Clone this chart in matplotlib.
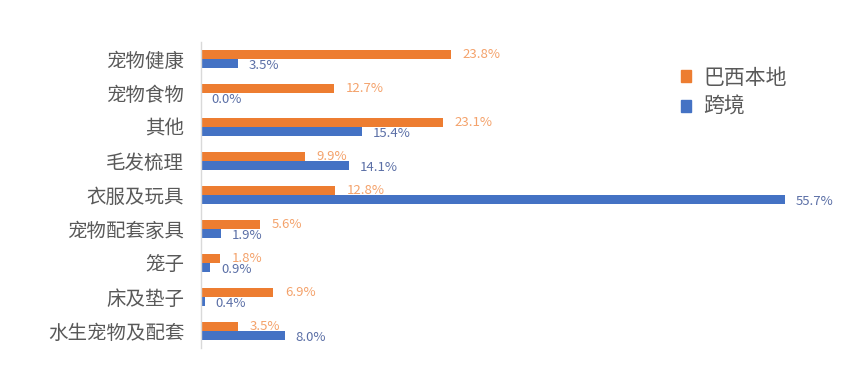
import matplotlib
matplotlib.use("Agg")
import matplotlib.pyplot as plt
from matplotlib.patches import Patch
import numpy as np

plt.rcParams['font.family'] = ['Noto Sans CJK SC', 'DejaVu Sans']

categories = ["宠物健康", "宠物食物", "其他", "毛发梳理", "衣服及玩具",
              "宠物配套家具", "笼子", "床及垫子", "水生宠物及配套"]
local_vals = [23.8, 12.7, 23.1, 9.9, 12.8, 5.6, 1.8, 6.9, 3.5]
cross_vals = [3.5, 0.0, 15.4, 14.1, 55.7, 1.9, 0.9, 0.4, 8.0]
series_names = ["巴西本地", "跨境"]

c_local = "#ED7D31"
c_cross = "#4472C4"
c_local_lbl = "#F4A26B"
c_cross_lbl = "#5B6FA6"

fig = plt.figure(figsize=(8.64, 3.78), dpi=100)
ax = fig.add_axes([201/864, 30/378, 629/864, 306/378])

n = len(categories)
y = np.arange(n)[::-1].astype(float)
h = 0.27
off = 0.14
ax.barh(y + off, local_vals, height=h, color=c_local)
ax.barh(y - off, cross_vals, height=h, color=c_cross)

for yi, v in zip(y, local_vals):
    ax.text(v + 1.1, yi + off - 0.02, f"{v:.1f}%", va="center", ha="left",
            color=c_local_lbl, fontsize=9.5)
for yi, v in zip(y, cross_vals):
    ax.text(v + 1.0, yi - off - 0.05, f"{v:.1f}%", va="center", ha="left",
            color=c_cross_lbl, fontsize=9.5)

ax.set_xlim(0, 60)
ax.set_ylim(-0.5, n - 0.5)
ax.set_yticks(y)
ax.set_yticklabels(categories, fontsize=14, color="#595959")
ax.tick_params(axis='y', length=0, pad=12)
ax.set_xticks([])
for s in ["top", "right", "bottom"]:
    ax.spines[s].set_visible(False)
ax.spines["left"].set_color("#D9D9D9")
ax.spines["left"].set_linewidth(1.0)

handles = [Patch(color=c_local), Patch(color=c_cross)]
fig.legend(handles, series_names, loc="upper left",
           bbox_to_anchor=(662/864, 1 - 48/378), frameon=False,
           fontsize=15, handlelength=0.5, handleheight=0.5,
           handletextpad=0.6, labelspacing=0.35, labelcolor="#595959")

fig.savefig("out.png", dpi=100)
